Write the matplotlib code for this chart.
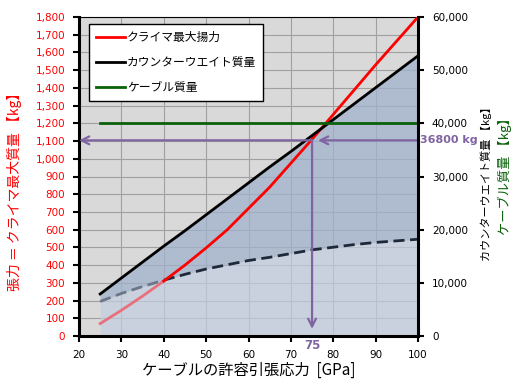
import matplotlib
matplotlib.use('Agg')
import matplotlib.pyplot as plt
from matplotlib.ticker import MultipleLocator, StrMethodFormatter
import numpy as np

plt.rcParams['font.family'] = ['DejaVu Sans', 'Noto Sans CJK JP']
JP = ['Noto Sans CJK JP', 'DejaVu Sans']

# allowable tensile stress of cable [GPa]
stress = np.array([25, 30, 35, 40, 45, 50, 55, 60, 65, 70, 75, 80, 85, 90, 95, 100])
# climber max lift [kg] (left axis)
climber = np.array([70, 145, 225, 310, 400, 497, 600, 720, 840, 975, 1110, 1250, 1390, 1530, 1665, 1800])
# counterweight mass [kg] (right axis)
counterweight = np.array([7900, 10900, 13900, 16900, 19800, 22800, 25800, 28800,
                          31800, 34700, 37700, 40700, 43700, 46700, 49700, 52700])
# cable mass [kg] (right axis)
cable = np.array([40000] * 16)
# dashed lower bound [kg] (right axis)
lower = np.array([6500, 8000, 9300, 10500, 11600, 12600, 13400, 14200,
                  14800, 15500, 16200, 16700, 17200, 17600, 17900, 18200])

sel_stress = 75
sel_mass = 36800

left_max = 1800
right_max = 60000
k = left_max / right_max  # right-axis kg -> left-axis units

purple = '#8064a2'

fig = plt.figure(figsize=(5.16, 3.81), dpi=100)
ax = fig.add_axes([79/516, 45/381, 339/516, 319/381])
ax.set_facecolor('#d9d9d9')

ax.set_xlim(20, 100)
ax.set_ylim(0, left_max)
ax.set_xticks(range(20, 101, 10))
ax.yaxis.set_major_locator(MultipleLocator(100))
ax.yaxis.set_major_formatter(StrMethodFormatter('{x:,.0f}'))
ax.grid(color='#a0a0a0', lw=0.8)
ax.set_axisbelow(True)

# shaded regions
ax.fill_between(stress, 0, lower * k, color='#c2cedf', alpha=0.7, lw=0, zorder=1)
ax.fill_between(stress, lower * k, counterweight * k, color='#a1b2cc', alpha=0.75, lw=0, zorder=1)

lo = stress <= 40
hi = stress >= 40
ax.plot(stress[lo], lower[lo] * k, color='#6b7689', ls=(0, (4, 2)), lw=2, zorder=2)
ax.plot(stress[hi], lower[hi] * k, color='#1f2838', ls=(0, (4, 2)), lw=2, zorder=2)
ax.plot(stress[lo], climber[lo], color='#e8707c', lw=2, zorder=3)
l1, = ax.plot(stress[hi], climber[hi], color='#ff0000', lw=2, zorder=3, label='クライマ最大揚力')
l2, = ax.plot(stress, counterweight * k, color='black', lw=2, zorder=3, label='カウンターウエイト質量')
l3, = ax.plot(stress, cable * k, color='#0b610b', lw=2, zorder=3, label='ケーブル質量')

# guide arrows
arr = dict(arrowstyle='->', color=purple, lw=1.6, shrinkA=0, shrinkB=0, mutation_scale=14)
ax.annotate('', xy=(sel_stress + 1.4, sel_mass * k), xytext=(100, sel_mass * k), arrowprops=arr, zorder=4)
ax.annotate('', xy=(20, sel_mass * k), xytext=(sel_stress, sel_mass * k), arrowprops=arr, zorder=4)
ax.annotate('', xy=(sel_stress, 40), xytext=(sel_stress, sel_mass * k), arrowprops=arr, zorder=4)
ax.text(1.006, sel_mass * k, f'{sel_mass} kg', transform=ax.get_yaxis_transform(),
        color=purple, fontsize=8, fontweight='bold', ha='left', va='center', clip_on=False)
ax.text(sel_stress, -0.03, f'{sel_stress}', transform=ax.get_xaxis_transform(),
        color=purple, fontsize=8.5, fontweight='bold', ha='center', va='center', clip_on=False)

ax.tick_params(axis='both', direction='out', length=4, width=1.5, labelsize=7.5, pad=6)
ax.tick_params(axis='y', labelcolor='red')
for s in ['left', 'bottom']:
    ax.spines[s].set_linewidth(2.2)
ax.spines['top'].set_linewidth(0.8)
ax.spines['right'].set_visible(False)

ax2 = ax.twinx()
ax2.set_ylim(0, right_max)
ax2.yaxis.set_major_locator(MultipleLocator(10000))
ax2.yaxis.set_major_formatter(StrMethodFormatter('{x:,.0f}'))
ax2.tick_params(axis='y', direction='out', length=4, width=1.5, labelsize=7.5, pad=6)
ax2.spines['right'].set_linewidth(2.2)
for s in ['left', 'bottom', 'top']:
    ax2.spines[s].set_visible(False)

leg = ax.legend(handles=[l1, l2, l3], loc='upper left', bbox_to_anchor=(0.03, 0.978),
                borderaxespad=0, prop={'family': JP, 'size': 8.5}, fancybox=False,
                edgecolor='black', framealpha=1, handlelength=2.4, handletextpad=0.2,
                labelspacing=1.0, borderpad=0.6)
leg.get_frame().set_linewidth(1.0)
leg.set_zorder(5)

fig.text(249/516, 1 - 370/381, 'ケーブルの許容引張応力  [GPa]', family=JP, fontsize=11,
         ha='center', va='center')
fig.text(14/516, 1 - 188/381, '張力 ＝ クライマ最大質量 【kg】', family=JP, fontsize=10,
         color='red', rotation=90, ha='center', va='center')
fig.text(486/516, 1 - 181/381, 'カウンターウエイト質量 【kg】', family=JP, fontsize=8,
         color='black', rotation=90, ha='center', va='center')
fig.text(505/516, 1 - 173/381, 'ケーブル質量 【kg】', family=JP, fontsize=9.5,
         color='#0b610b', rotation=90, ha='center', va='center')

fig.savefig('out.png', dpi=100)
